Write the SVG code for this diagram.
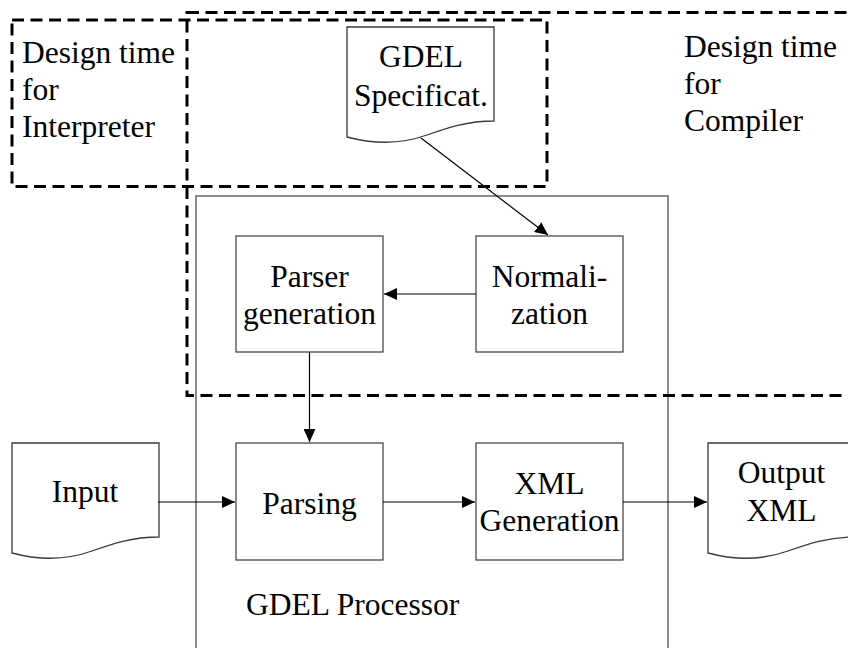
<svg xmlns="http://www.w3.org/2000/svg" xmlns:xlink="http://www.w3.org/1999/xlink" width="848" height="648" viewBox="0 0 848 648" id="gdel-diagram">
  <style>
    #gdel-diagram g text.t { font-family: "Liberation Serif", serif !important; font-size: 31.5px; fill: #000; }
    .c { text-anchor: middle; }
    .box { fill: #fff; stroke: #4a4a4a; stroke-width: 1.3; }
    .doc { fill: #fff; stroke: #3a3a3a; stroke-width: 1.3; }
    .proc { fill: none; stroke: #7f7f7f; stroke-width: 1.8; }
    .zone { fill: none; stroke: #000; stroke-width: 3; stroke-dasharray: 12 6.5; }
    .edge { fill: none; stroke: #000; stroke-width: 1.2; marker-end: url(#arrow); }
  </style>
  <defs>
    <marker id="arrow" markerUnits="userSpaceOnUse" markerWidth="14" markerHeight="12" viewBox="0 0 14 12" refX="13" refY="6" orient="auto">
      <path d="M0,0 L13,6 L0,12 Z" fill="#000"/>
    </marker>
    <!-- document sheet: flat top, wavy bottom -->
    <path id="docShape" d="M0,0 H147 V94 C120,94 100,101 80,108 C55,117 30,118 0,110 Z"/>
  </defs>

  <rect width="848" height="648" fill="#fff"/>

  <g font-family="'Liberation Serif', serif">
  <g id="gdel-processor">
    <rect class="proc" x="196" y="196" width="472" height="470"/>
    <text class="t" x="246" y="615">GDEL Processor</text>
  </g>

  <g id="gdel-spec">
    <use xlink:href="#docShape" class="doc" x="347" y="27"/>
    <text class="t c" x="421" y="67">GDEL</text>
    <text class="t c" x="421" y="106">Specificat.</text>
  </g>

  <g id="parser-generation">
    <rect class="box" x="236" y="236" width="147" height="116"/>
    <text class="t c" x="309.5" y="287">Parser</text>
    <text class="t c" x="309.5" y="324">generation</text>
  </g>

  <g id="normalization">
    <rect class="box" x="476" y="236" width="147" height="116"/>
    <text class="t c" x="549.5" y="287">Normali-</text>
    <text class="t c" x="549.5" y="324">zation</text>
  </g>

  <g id="input">
    <use xlink:href="#docShape" class="doc" x="12" y="443"/>
    <text class="t c" x="85" y="502">Input</text>
  </g>

  <g id="parsing">
    <rect class="box" x="236" y="443" width="147" height="117"/>
    <text class="t c" x="309.5" y="514">Parsing</text>
  </g>

  <g id="xml-generation">
    <rect class="box" x="476" y="443" width="147" height="117"/>
    <text class="t c" x="549.5" y="494">XML</text>
    <text class="t c" x="549.5" y="531">Generation</text>
  </g>

  <g id="output-xml">
    <use xlink:href="#docShape" class="doc" x="708" y="443"/>
    <text class="t c" x="781.5" y="483">Output</text>
    <text class="t c" x="781.5" y="521">XML</text>
  </g>

  <g id="connectors">
    <line class="edge" x1="421" y1="138" x2="548" y2="235"/>
    <line class="edge" x1="476" y1="294" x2="384" y2="294"/>
    <line class="edge" x1="309.5" y1="352" x2="309.5" y2="442"/>
    <line class="edge" x1="158" y1="502" x2="235" y2="502"/>
    <line class="edge" x1="383" y1="502" x2="475" y2="502"/>
    <line class="edge" x1="623" y1="502" x2="707" y2="502"/>
  </g>

  <g id="zone-interpreter">
    <rect class="zone" x="12" y="20" width="535" height="166.5"/>
    <text class="t" x="22" y="63">Design time</text>
    <text class="t" x="22" y="100">for</text>
    <text class="t" x="22" y="137">Interpreter</text>
  </g>

  <g id="zone-compiler">
    <rect class="zone" x="187" y="12.5" width="700" height="383"/>
    <text class="t" x="684" y="57">Design time</text>
    <text class="t" x="684" y="94">for</text>
    <text class="t" x="684" y="131">Compiler</text>
  </g>
  </g>
</svg>
